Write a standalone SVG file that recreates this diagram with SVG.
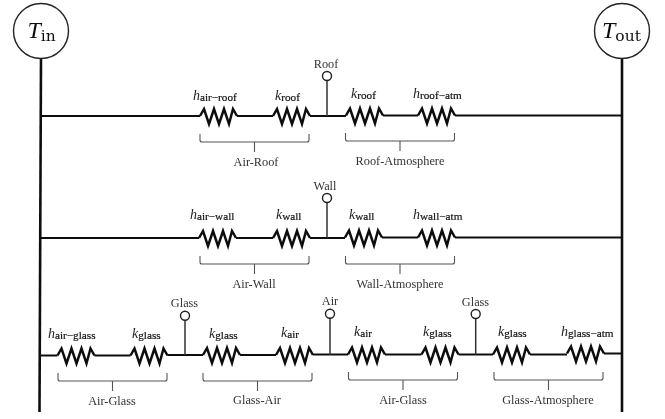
<svg xmlns="http://www.w3.org/2000/svg" width="665" height="419" viewBox="0 0 665 419">
<style>
text{font-family:"Liberation Serif","Times New Roman",serif;fill:#333}
.lab{font-size:12.3px;text-anchor:middle}
.m{font-size:14px;font-style:italic;fill:#222}
.m tspan{font-size:11.200px;font-style:normal;fill:#111;stroke:#111;stroke-width:.2px}
.big{font-size:24px;font-style:italic;fill:#111}
.big tspan{font-family:"DejaVu Serif",serif;font-size:15.500px;font-style:normal;fill:#111}
.wire{fill:none;stroke:#111;stroke-width:2.200}
.bus{fill:none;stroke:#111;stroke-width:2.600}
.stem{fill:none;stroke:#333;stroke-width:1.500}
.br{fill:none;stroke:#555;stroke-width:1.100}
.node{fill:#fff;stroke:#222;stroke-width:1.400}
.r{fill:none;stroke:#111;stroke-width:2.500;stroke-linejoin:miter}
</style>
<defs>
<polyline id="res" class="r" points="0,0 4,-7 9,8 14,-7 19,8 24,-7 29,8 33,-7 37,0"/>
<path id="brace" class="br" d="M0,0V6Q0,8 2,8H107Q109,8 109,6V0M54.500,8V18"/>
<filter id="soft" x="0" y="0" width="665" height="419" filterUnits="userSpaceOnUse"><feGaussianBlur stdDeviation="0.450"/></filter>
</defs>
<g filter="url(#soft)">
<rect width="665" height="419" fill="#fff"/>
<g id="connectors">
<path class="bus" d="M41,57L39.500,412"/>
<path class="bus" d="M622,57V412"/>
<path class="wire" d="M41,116H200M237,116H273M310,116H346M383,115.500H418M455,115.500H622"/>
<path class="wire" d="M41,238H199M236,238H273M310,238H345M382,237.500H418M455,237.500H622"/>
<path class="wire" d="M40,355.500H57.500M94.500,355.500H130.500M167.500,355H203M240,355H276M313,354.500H348M385,354.500H421.500M458.500,354.500H493M530,354.500H567M604,353.500H622"/>
<path class="stem" d="M327,81V116M327,203V238M185,320V355M330,318V355M475.700,319V354.500"/>
</g>
<g id="T_in"><circle class="node" cx="41" cy="31" r="27.500"/><text class="big" x="27.500" y="37.700">T<tspan dy="3.300">in</tspan></text></g>
<g id="T_out"><circle class="node" cx="622" cy="31" r="27.500"/><text class="big" x="602" y="37.700">T<tspan dy="3.300">out</tspan></text></g>
<g id="roof-row">
<use href="#res" x="200" y="116"/><use href="#res" x="273" y="116"/><use href="#res" x="346" y="115.500"/><use href="#res" x="418" y="115.500"/>
<circle class="node" cx="327" cy="76" r="4.500"/><text class="lab" x="326" y="67.500">Roof</text>
<text class="m" x="193" y="100">h<tspan dy="1">air−roof</tspan></text>
<text class="m" x="275" y="100">k<tspan dy="1">roof</tspan></text>
<text class="m" x="351" y="98">k<tspan dy="1">roof</tspan></text>
<text class="m" x="413" y="98">h<tspan dy="1">roof−atm</tspan></text>
<use href="#brace" x="200" y="134"/><use href="#brace" x="345.500" y="133"/>
<text class="lab" x="256" y="165.500">Air-Roof</text><text class="lab" x="400" y="165">Roof-Atmosphere</text>
</g>
<g id="wall-row">
<use href="#res" x="199" y="238"/><use href="#res" x="273" y="238"/><use href="#res" x="345" y="237.500"/><use href="#res" x="418" y="237.500"/>
<circle class="node" cx="327" cy="198" r="4.500"/><text class="lab" x="325" y="190">Wall</text>
<text class="m" x="190" y="219">h<tspan dy="1">air−wall</tspan></text>
<text class="m" x="276" y="219">k<tspan dy="1">wall</tspan></text>
<text class="m" x="349" y="219">k<tspan dy="1">wall</tspan></text>
<text class="m" x="413" y="219">h<tspan dy="1">wall−atm</tspan></text>
<use href="#brace" x="200" y="256"/><use href="#brace" x="345.500" y="256"/>
<text class="lab" x="254" y="288">Air-Wall</text><text class="lab" x="400" y="288">Wall-Atmosphere</text>
</g>
<g id="glass-row">
<use href="#res" x="57.500" y="355.500"/><use href="#res" x="130.500" y="355.500"/><use href="#res" x="203" y="355"/><use href="#res" x="276" y="355"/><use href="#res" x="348" y="354.500"/><use href="#res" x="421.500" y="354.500"/><use href="#res" x="493" y="354.500"/><use href="#res" x="567" y="353.500"/>
<circle class="node" cx="185" cy="315.700" r="4.500"/><text class="lab" x="184.500" y="307">Glass</text>
<circle class="node" cx="330" cy="313.700" r="4.500"/><text class="lab" x="330" y="305">Air</text>
<circle class="node" cx="475.700" cy="314" r="4.500"/><text class="lab" x="475.500" y="306">Glass</text>
<text class="m" x="48" y="338">h<tspan dy="1">air−glass</tspan></text>
<text class="m" x="132" y="338">k<tspan dy="1">glass</tspan></text>
<text class="m" x="209" y="338">k<tspan dy="1">glass</tspan></text>
<text class="m" x="281" y="337">k<tspan dy="1">air</tspan></text>
<text class="m" x="354" y="336">k<tspan dy="1">air</tspan></text>
<text class="m" x="423" y="336">k<tspan dy="1">glass</tspan></text>
<text class="m" x="498" y="336">k<tspan dy="1">glass</tspan></text>
<text class="m" x="561" y="336">h<tspan dy="1">glass−atm</tspan></text>
<use href="#brace" x="58" y="373"/><use href="#brace" x="203" y="373"/><use href="#brace" x="348.500" y="372"/><use href="#brace" x="494" y="372"/>
<text class="lab" x="112" y="405">Air-Glass</text><text class="lab" x="257" y="404">Glass-Air</text><text class="lab" x="403" y="404">Air-Glass</text><text class="lab" x="548" y="404">Glass-Atmosphere</text>
</g>
</g>
</svg>
